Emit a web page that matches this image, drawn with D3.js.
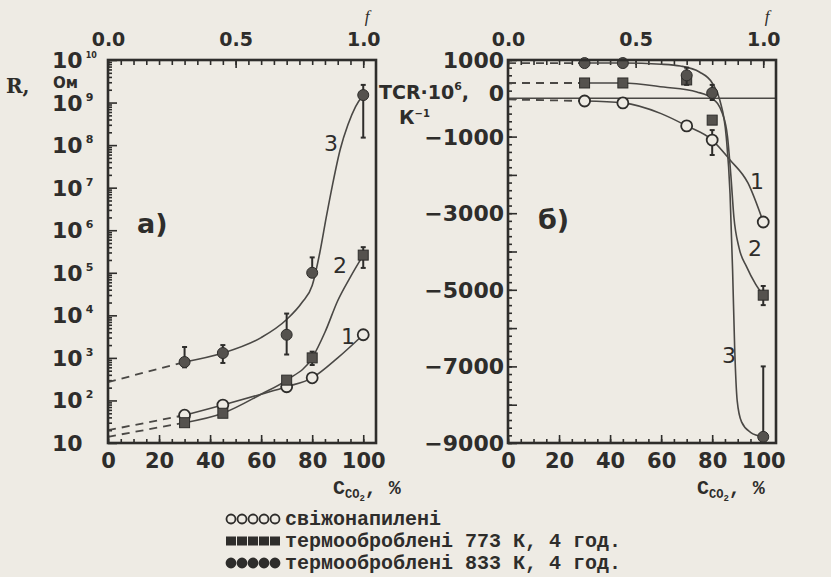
<!DOCTYPE html>
<html>
<head>
<meta charset="utf-8">
<script src="https://cdn.jsdelivr.net/npm/d3@7"></script>
<style>
  html, body { margin: 0; padding: 0; background: #eeebe4; }
  svg { display: block; }
</style>
</head>
<body>
<div id="chart"></div>
<script>
// CO2 content, % (measured points)
const conc = [30, 45, 70, 80, 100];

// a) resistance R, Ohm
const rFresh = [45, 78, 210, 340, 3500];
const r773 = [30, 50, 300, 1000, 2.6e5];
const r833 = [800, 1300, 3500, 1e5, 1.5e9];
const r773Err = [null, null, null, [680, 1400], [1.3e5, 4e5]];
const r833Err = [[600, 1800], [760, 2000], [1200, 1.1e4], [8e4, 2.3e5], [1.5e8, 2.6e9]];

// a) hand drawn curves through the points
const rFreshCurve = [[30, 45], [45, 78], [60, 140], [70, 210], [80, 340], [90, 1000], [100, 3500]];
const r773Curve = [[30, 30], [45, 50], [60, 140], [70, 300], [80, 1000], [85, 4000], [90, 2.2e4], [95, 8e4], [100, 2.6e5]];
const r833Curve = [[30, 800], [45, 1300], [60, 3000], [70, 8000], [76, 2e4], [80, 5e4], [83, 3e5], [85.5, 2e6], [88, 1.2e7], [91, 8e7], [94, 3e8], [97, 8e8], [100, 1.5e9]];
// a) dashed extrapolation to 0 %
const rFreshDash = [[0, 20], [30, 45]];
const r773Dash = [[0, 14], [30, 30]];
const r833Dash = [[0, 270], [30, 800]];

// b) TCR*10^6, 1/K
const tcrFresh = [-70, -120, -720, -1090, -3230];
const tcr773 = [400, 400, 480, -570, -5140];
const tcr833 = [920, 920, 600, 140, -8840];
const tcrFreshErr = [null, null, null, [-1480, -830], null];
const tcr773Err = [null, null, null, null, [-5400, -4900]];
const tcr833Err = [null, null, [350, 800], [-45, 350], [-8840, -7000]];

const tcrFreshCurve = [[30, -70], [45, -120], [60, -400], [70, -720], [80, -1090], [87, -1610], [94, -2210], [100, -3230]];
const tcr773Curve = [[30, 400], [45, 400], [61, 295], [74, 165], [80, 0], [84, -400], [86, -1000], [87.3, -2000], [88.5, -3100], [90.5, -3900], [93.5, -4400], [97, -4850], [100, -5140]];
const tcr833Curve = [[30, 920], [45, 920], [60, 890], [67.5, 843], [75, 687], [80, 400], [83, -50], [85.5, -1000], [87, -2500], [88, -4500], [88.8, -6500], [89.8, -7900], [91.5, -8450], [95, -8720], [100, -8840]];
const tcrFreshDash = [[0, -30], [30, -70]];
const tcr773Dash = [[0, 400], [30, 400]];
const tcr833Dash = [[0, 920], [30, 920]];

// axis labels
const xTickLabels = [0, 20, 40, 60, 80, 100];
const fTickLabels = ["0.0", "0.5", "1.0"];
const fTickValues = [0, 0.5, 1.0];
const rDecades = [1, 2, 3, 4, 5, 6, 7, 8, 9, 10];
const tcrTickLabels = [1000, 0, -1000, -3000, -5000, -7000, -9000];
const legendRows = [
  { sym: "open", text: "свіжонапилені" },
  { sym: "square", text: "термооброблені 773 К, 4 год." },
  { sym: "dot", text: "термооброблені 833 К, 4 год." }
];

const W = 831, H = 577;
const ink = "#2e2d2b";
const lineInk = "#4a4845";
const numFont = "DejaVu Sans";
const textFont = "Liberation Mono";

const svg = d3.select("#chart").append("svg")
  .attr("width", W).attr("height", H)
  .style("background", "#eeebe4");

// scales
const xL = d3.scaleLinear([0, 105], [108, 376]);
const yL = d3.scaleLog([10, 1e10], [443, 60]);
const fL = d3.scaleLinear([0, 1.05], [108, 376]);
const xR = d3.scaleLinear([0, 105], [508, 776]);
const yR = d3.scaleLinear([-9000, 1000], [443, 60]);
const fR = d3.scaleLinear([0, 1.05], [508, 776]);

function styleAxis(g) {
  g.select(".domain").remove();
  g.selectAll(".tick line").attr("stroke", ink).attr("stroke-width", 1.6);
  g.selectAll(".tick text")
    .attr("fill", ink)
    .attr("font-family", numFont)
    .attr("font-weight", "bold");
}

// common axes for both panels: bottom C_CO2 and top f
function xAxes(x, f) {
  svg.append("g").attr("transform", "translate(0,443)")
    .call(d3.axisBottom(x).tickValues(d3.range(0, 101, 5)).tickSize(-4).tickFormat(""))
    .call(styleAxis);
  svg.append("g").attr("transform", "translate(0,443)")
    .call(d3.axisBottom(x).tickValues(xTickLabels).tickSize(-8).tickPadding(8))
    .call(styleAxis)
    .call(g => g.selectAll(".tick text").attr("font-size", 21).attr("dy", "0.8em"));
  svg.append("g").attr("transform", "translate(0,60)")
    .call(d3.axisTop(f).tickValues(d3.range(0, 1.001, 0.05)).tickSize(-5).tickFormat(""))
    .call(styleAxis);
  svg.append("g").attr("transform", "translate(0,60)")
    .call(d3.axisTop(f).tickValues(fTickValues).tickSize(-8).tickPadding(14)
      .tickFormat((d, i) => fTickLabels[i]))
    .call(styleAxis)
    .call(g => g.selectAll(".tick text").attr("font-size", 19));
  svg.append("text")
    .attr("x", f(1.0) + 4).attr("y", 22)
    .attr("font-family", "Liberation Serif").attr("font-style", "italic")
    .attr("font-size", 17).attr("fill", ink).attr("text-anchor", "middle")
    .text("f");
}

function axisTitle(x0) {
  const t = svg.append("text")
    .attr("x", x0).attr("y", 494)
    .attr("font-family", textFont).attr("font-weight", "bold")
    .attr("font-size", 20).attr("fill", ink);
  t.append("tspan").text("C");
  t.append("tspan").attr("font-size", 12).attr("dy", 4).text("CO");
  t.append("tspan").attr("font-size", 9).attr("dy", 3).text("2");
  t.append("tspan").attr("dy", -7).text(", %");
}

function frame(x, y) {
  svg.append("rect")
    .attr("x", x.range()[0]).attr("y", y.range()[1])
    .attr("width", x.range()[1] - x.range()[0])
    .attr("height", y.range()[0] - y.range()[1])
    .attr("fill", "none").attr("stroke", ink).attr("stroke-width", 2.6);
}

function drawSeries(x, y, pts, curve, dash, err, sym) {
  const line = d3.line().x(d => x(d[0])).y(d => y(d[1]));
  svg.append("path").datum(dash)
    .attr("d", line)
    .attr("fill", "none").attr("stroke", lineInk).attr("stroke-width", 1.8)
    .attr("stroke-dasharray", "8,6");
  svg.append("path").datum(curve)
    .attr("d", line.curve(d3.curveMonotoneX))
    .attr("fill", "none").attr("stroke", lineInk).attr("stroke-width", 1.6);

  const data = conc.map((c, i) => ({ c, v: pts[i], e: err ? err[i] : null }));
  const eb = svg.append("g").attr("stroke", ink).attr("stroke-width", 2);
  data.filter(d => d.e).forEach(d => {
    eb.append("line")
      .attr("x1", x(d.c)).attr("x2", x(d.c))
      .attr("y1", y(d.e[0])).attr("y2", y(d.e[1]));
    d.e.forEach(v => eb.append("line")
      .attr("x1", x(d.c) - 2.5).attr("x2", x(d.c) + 2.5)
      .attr("y1", y(v)).attr("y2", y(v)));
  });

  const g = svg.append("g");
  if (sym === "square") {
    g.selectAll("rect").data(data).join("rect")
      .attr("x", d => x(d.c) - 5).attr("y", d => y(d.v) - 5)
      .attr("width", 10).attr("height", 10)
      .attr("fill", "#55524e").attr("stroke", ink).attr("stroke-width", 1);
  } else {
    g.selectAll("circle").data(data).join("circle")
      .attr("cx", d => x(d.c)).attr("cy", d => y(d.v))
      .attr("r", 5.5)
      .attr("fill", sym === "open" ? "#eeebe4" : "#55524e")
      .attr("stroke", ink).attr("stroke-width", sym === "open" ? 1.8 : 1);
  }
}

function curveLabel(x, y, t) {
  svg.append("text").attr("x", x).attr("y", y)
    .attr("font-family", numFont).attr("font-size", 22)
    .attr("fill", ink).attr("text-anchor", "middle")
    .attr("dominant-baseline", "central").text(t);
}

// ---------- a) resistance ----------
const minorLog = [];
for (let e = 1; e < 10; e++) for (let k = 2; k <= 9; k++) minorLog.push(k * Math.pow(10, e));
svg.append("g").attr("transform", "translate(108,0)")
  .call(d3.axisLeft(yL).tickValues(minorLog).tickSize(-4).tickFormat(""))
  .call(styleAxis);
svg.append("g").attr("transform", "translate(108,0)")
  .call(d3.axisLeft(yL).tickValues(rDecades.map(e => Math.pow(10, e))).tickSize(-9).tickFormat(""))
  .call(styleAxis);

const yLab = svg.append("g")
  .attr("font-family", numFont).attr("font-weight", "bold").attr("fill", ink);
rDecades.forEach(e => {
  const t = yLab.append("text")
    .attr("x", 52).attr("y", yL(Math.pow(10, e)) + 8)
    .attr("font-size", 22);
  t.append("tspan").text("10");
  if (e > 1) t.append("tspan").attr("font-size", e === 10 ? 8 : 11)
    .attr("dx", 3).attr("dy", -10).text(e);
});
svg.append("text").attr("x", 6).attr("y", 93)
  .attr("font-family", "DejaVu Serif").attr("font-weight", "bold")
  .attr("font-size", 20).attr("fill", ink).text("R,");
svg.append("text").attr("x", 53).attr("y", 88)
  .attr("font-family", numFont).attr("font-weight", "bold")
  .attr("font-size", 15).attr("fill", ink).text("Ом");

xAxes(xL, fL);
axisTitle(333);

drawSeries(xL, yL, rFresh, rFreshCurve, rFreshDash, null, "open");
drawSeries(xL, yL, r773, r773Curve, r773Dash, r773Err, "square");
drawSeries(xL, yL, r833, r833Curve, r833Dash, r833Err, "dot");
frame(xL, yL);

svg.append("text").attr("x", 137).attr("y", 233)
  .attr("font-family", numFont).attr("font-weight", "bold")
  .attr("font-size", 27).attr("fill", ink).text("а)");
curveLabel(331, 143, "3");
curveLabel(340, 265, "2");
curveLabel(348, 336, "1");

// ---------- b) TCR ----------
svg.append("g").attr("transform", "translate(508,0)")
  .call(d3.axisLeft(yR).tickValues(d3.range(-9000, 1001, 200)).tickSize(-4).tickFormat(""))
  .call(styleAxis);
svg.append("g").attr("transform", "translate(508,0)")
  .call(d3.axisLeft(yR).tickValues(d3.range(-9000, 1001, 1000)).tickSize(-9).tickFormat(""))
  .call(styleAxis);
svg.append("g")
  .attr("font-family", numFont).attr("font-weight", "bold").attr("fill", ink)
  .attr("font-size", 22).attr("text-anchor", "end")
  .selectAll("text").data(tcrTickLabels).join("text")
  .attr("x", 504).attr("y", d => yR(d) + (d === 0 ? 3 : 8))
  .text(d => d < 0 ? "−" + Math.abs(d) : d);

// zero line
svg.append("line")
  .attr("x1", xR(0)).attr("x2", xR(105))
  .attr("y1", yR(0)).attr("y2", yR(0))
  .attr("stroke", lineInk).attr("stroke-width", 1.6);

const tcrT = svg.append("text").attr("x", 379).attr("y", 99)
  .attr("font-family", numFont).attr("font-weight", "bold")
  .attr("font-size", 19).attr("fill", ink);
tcrT.append("tspan").text("TCR·10");
tcrT.append("tspan").attr("font-size", 11).attr("dy", -9).text("6");
tcrT.append("tspan").attr("dy", 9).text(",");
const kT = svg.append("text").attr("x", 399).attr("y", 124)
  .attr("font-family", numFont).attr("font-weight", "bold")
  .attr("font-size", 19).attr("fill", ink);
kT.append("tspan").text("К");
kT.append("tspan").attr("font-size", 10).attr("dy", -7).text("−1");

xAxes(xR, fR);
axisTitle(697);

drawSeries(xR, yR, tcrFresh, tcrFreshCurve, tcrFreshDash, tcrFreshErr, "open");
drawSeries(xR, yR, tcr773, tcr773Curve, tcr773Dash, tcr773Err, "square");
drawSeries(xR, yR, tcr833, tcr833Curve, tcr833Dash, tcr833Err, "dot");
frame(xR, yR);

svg.append("text").attr("x", 538).attr("y", 229)
  .attr("font-family", numFont).attr("font-weight", "bold")
  .attr("font-size", 27).attr("fill", ink).text("б)");
curveLabel(757, 181, "1");
curveLabel(755, 248, "2");
curveLabel(729, 355, "3");

// ---------- legend ----------
const leg = svg.append("g");
legendRows.forEach((row, i) => {
  const cy = 519 + i * 22;
  const syms = leg.append("g");
  d3.range(5).forEach(k => {
    const cx = 231 + k * 11;
    if (row.sym === "square") {
      syms.append("rect").attr("x", cx - 5).attr("y", cy - 4.5)
        .attr("width", 10).attr("height", 9).attr("fill", ink);
    } else {
      syms.append("circle").attr("cx", cx).attr("cy", cy).attr("r", 4.5)
        .attr("fill", row.sym === "open" ? "none" : ink)
        .attr("stroke", ink).attr("stroke-width", 1.8);
    }
  });
  leg.append("text").attr("x", 285).attr("y", cy + 6)
    .attr("font-family", textFont).attr("font-weight", "bold")
    .attr("font-size", 20).attr("fill", ink).text(row.text);
});
</script>
</body>
</html>
